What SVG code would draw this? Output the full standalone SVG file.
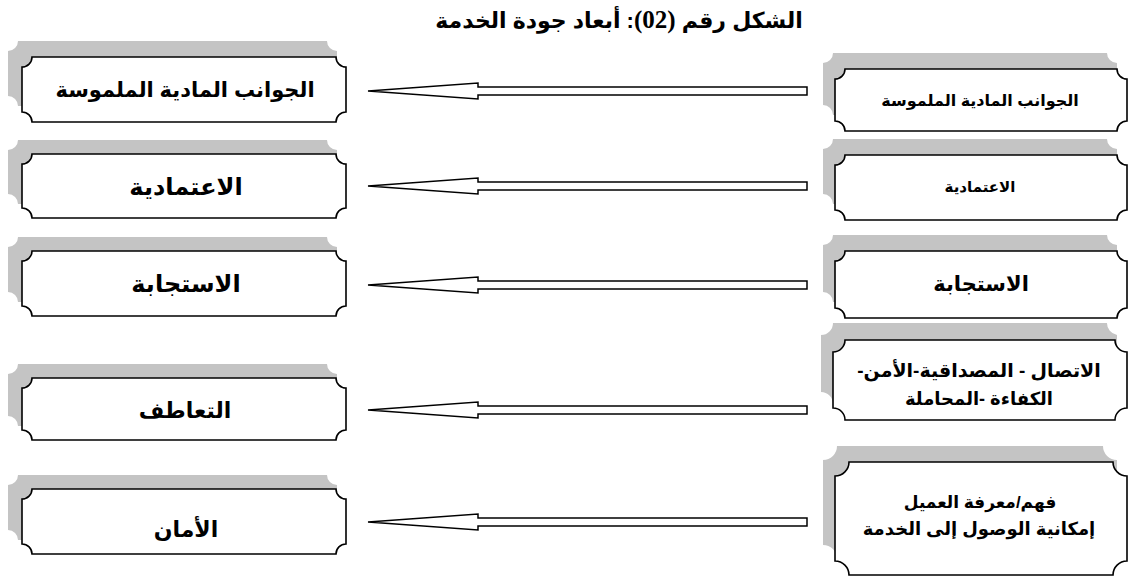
<svg xmlns="http://www.w3.org/2000/svg" width="1129" height="578" viewBox="0 0 1129 578">
<style>
.sh{fill:#c4c4c4;stroke:none}
.pl{fill:#fff;stroke:#000;stroke-width:1.6}
.ar{fill:#fff;stroke:#000;stroke-width:1.5;stroke-linejoin:miter}
text{font-family:"Liberation Sans","DejaVu Sans",sans-serif;font-weight:bold;fill:#000;text-anchor:middle;direction:rtl}
.num{font-family:"Liberation Serif",serif;font-size:25px}
</style>
<rect width="1129" height="578" fill="#fff"/>
<text x="619" y="28" style="font-size:22px">الشكل رقم <tspan class="num">(02)</tspan>: أبعاد جودة الخدمة</text>

<g id="connectors">
<path class="ar" d="M368,91 L478,83 L478,87 L807,87 L807,95 L478,95 L478,99 Z"/>
<path class="ar" d="M368,186 L478,178 L478,182 L807,182 L807,190 L478,190 L478,194 Z"/>
<path class="ar" d="M368,285 L478,277 L478,281 L807,281 L807,289 L478,289 L478,293 Z"/>
<path class="ar" d="M368,410 L478,402 L478,406 L807,406 L807,414 L478,414 L478,418 Z"/>
<path class="ar" d="M368,522 L478,514 L478,518 L807,518 L807,526 L478,526 L478,530 Z"/>
</g>

<g id="left1">
<path class="sh" d="M18,41 H327 A10 10 0 0 0 337,51 V96 A10 10 0 0 0 327,106 H18 A10 10 0 0 0 8,96 V51 A10 10 0 0 0 18,41 Z"/>
<path class="pl" d="M32,57 H336 A10 10 0 0 0 346,67 V112 A10 10 0 0 0 336,122 H32 A10 10 0 0 0 22,112 V67 A10 10 0 0 0 32,57 Z"/>
<text x="185" y="97" style="font-size:21px">الجوانب المادية الملموسة</text>
</g>
<g id="left2">
<path class="sh" d="M18,140 H327 A10 10 0 0 0 337,150 V194 A10 10 0 0 0 327,204 H18 A10 10 0 0 0 8,194 V150 A10 10 0 0 0 18,140 Z"/>
<path class="pl" d="M32,154 H336 A10 10 0 0 0 346,164 V208 A10 10 0 0 0 336,218 H32 A10 10 0 0 0 22,208 V164 A10 10 0 0 0 32,154 Z"/>
<text x="186" y="195" style="font-size:24px">الاعتمادية</text>
</g>
<g id="left3">
<path class="sh" d="M18,237 H327 A10 10 0 0 0 337,247 V292 A10 10 0 0 0 327,302 H18 A10 10 0 0 0 8,292 V247 A10 10 0 0 0 18,237 Z"/>
<path class="pl" d="M32,251 H336 A10 10 0 0 0 346,261 V306 A10 10 0 0 0 336,316 H32 A10 10 0 0 0 22,306 V261 A10 10 0 0 0 32,251 Z"/>
<text x="186" y="292" style="font-size:24px">الاستجابة</text>
</g>
<g id="left4">
<path class="sh" d="M18,364 H327 A10 10 0 0 0 337,374 V416 A10 10 0 0 0 327,426 H18 A10 10 0 0 0 8,416 V374 A10 10 0 0 0 18,364 Z"/>
<path class="pl" d="M32,378 H336 A10 10 0 0 0 346,388 V430 A10 10 0 0 0 336,440 H32 A10 10 0 0 0 22,430 V388 A10 10 0 0 0 32,378 Z"/>
<text x="185" y="418" style="font-size:22px">التعاطف</text>
</g>
<g id="left5">
<path class="sh" d="M18,475 H327 A10 10 0 0 0 337,485 V530 A10 10 0 0 0 327,540 H18 A10 10 0 0 0 8,530 V485 A10 10 0 0 0 18,475 Z"/>
<path class="pl" d="M32,489 H336 A10 10 0 0 0 346,499 V544 A10 10 0 0 0 336,554 H32 A10 10 0 0 0 22,544 V499 A10 10 0 0 0 32,489 Z"/>
<text x="186" y="537" style="font-size:22px">الأمان</text>
</g>

<g id="right1">
<path class="sh" d="M833,53 H1107 A10 10 0 0 0 1117,63 V105 A10 10 0 0 0 1107,115 H833 A10 10 0 0 0 823,105 V63 A10 10 0 0 0 833,53 Z"/>
<path class="pl" d="M845,69 H1117 A10 10 0 0 0 1127,79 V121 A10 10 0 0 0 1117,131 H845 A10 10 0 0 0 835,121 V79 A10 10 0 0 0 845,69 Z"/>
<text x="980" y="106" style="font-size:16px">الجوانب المادية الملموسة</text>
</g>
<g id="right2">
<path class="sh" d="M833,139 H1107 A10 10 0 0 0 1117,149 V194 A10 10 0 0 0 1107,204 H833 A10 10 0 0 0 823,194 V149 A10 10 0 0 0 833,139 Z"/>
<path class="pl" d="M845,155 H1117 A10 10 0 0 0 1127,165 V210 A10 10 0 0 0 1117,220 H845 A10 10 0 0 0 835,210 V165 A10 10 0 0 0 845,155 Z"/>
<text x="980" y="192" style="font-size:15px">الاعتمادية</text>
</g>
<g id="right3">
<path class="sh" d="M833,235 H1107 A10 10 0 0 0 1117,245 V292 A10 10 0 0 0 1107,302 H833 A10 10 0 0 0 823,292 V245 A10 10 0 0 0 833,235 Z"/>
<path class="pl" d="M845,251 H1117 A10 10 0 0 0 1127,261 V308 A10 10 0 0 0 1117,318 H845 A10 10 0 0 0 835,308 V261 A10 10 0 0 0 845,251 Z"/>
<text x="981" y="291" style="font-size:21px">الاستجابة</text>
</g>
<g id="right4">
<path class="sh" d="M833,323 H1107 A12 12 0 0 0 1117,335 V392 A12 12 0 0 0 1107,404 H833 A12 12 0 0 0 821,392 V335 A12 12 0 0 0 833,323 Z"/>
<path class="pl" d="M845,340 H1115 A12 12 0 0 0 1127,352 V408 A12 12 0 0 0 1115,420 H845 A12 12 0 0 0 833,408 V352 A12 12 0 0 0 845,340 Z"/>
<text x="979" y="377" style="font-size:19px">الاتصال - المصداقية-الأمن-</text>
<text x="979" y="405" style="font-size:18px">الكفاءة -المحاملة</text>
</g>
<g id="right5">
<path class="sh" d="M837,446 H1103 A14 14 0 0 0 1117,460 V545 A14 14 0 0 0 1103,559 H837 A14 14 0 0 0 823,545 V460 A14 14 0 0 0 837,446 Z"/>
<path class="pl" d="M849,462 H1113 A14 14 0 0 0 1127,476 V561 A14 14 0 0 0 1113,575 H849 A14 14 0 0 0 835,561 V476 A14 14 0 0 0 849,462 Z"/>
<text x="980" y="508" style="font-size:17px">فهم/معرفة العميل</text>
<text x="979" y="535" style="font-size:18px">إمكانية الوصول إلى الخدمة</text>
</g>
</svg>
